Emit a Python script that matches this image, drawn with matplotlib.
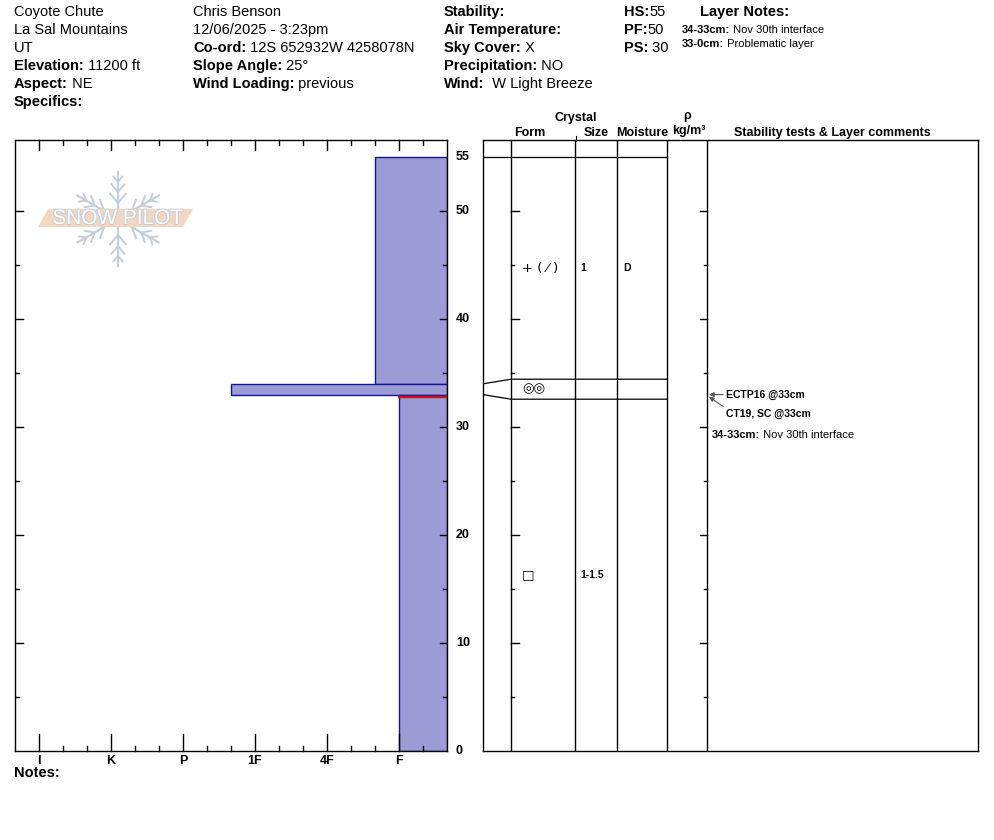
#
# Snow pit profile: Coyote Chute, La Sal Mountains
#
import numpy as np
import matplotlib
matplotlib.use('Agg')
import matplotlib.pyplot as plt
from matplotlib.patches import Polygon
import matplotlib.patheffects as pe

# Header info
site_lines = ['Coyote Chute', 'La Sal Mountains', 'UT']
site_fields = [('Elevation:', ' 11200 ft'), ('Aspect:', ' NE'), ('Specifics:', '')]
obs_lines = ['Chris Benson', '12/06/2025 - 3:23pm']
obs_fields = [('Co-ord:', ' 12S 652932W 4258078N'), ('Slope Angle:', ' 25°'),
              ('Wind Loading:', ' previous')]
wx_fields = [('Stability:', ''), ('Air Temperature:', ''), ('Sky Cover:', ' X'),
             ('Precipitation:', ' NO'), ('Wind:', '  W Light Breeze')]
depth_fields = [('HS:', '55'), ('PF:', '50'), ('PS:', ' 30')]
layer_notes = [('34-33cm:', ' Nov 30th interface'), ('33-0cm:', ' Problematic layer')]

# Hardness scale
hardness_names = ['I', 'K', 'P', '1F', '4F', 'F']
hardness_values = [6, 5, 4, 3, 2, 1]

# Layers (cm)
layer_top = [55, 34, 33]
layer_bottom = [34, 33, 0]
layer_hardness = ['F+', '1F+', 'F']
layer_form = ['+ ( \u2044 )', '\u25ce\u25ce', '\u25a1']
layer_size = ['1', '', '1-1.5']
layer_moisture = ['D', '', '']
problem_layer = 2

# Stability tests
test_names = ['ECTP16 @33cm', 'CT19, SC @33cm']
test_depths = [33, 33]
comment_label = '34-33cm:'
comment_text = ' Nov 30th interface'

HS = 55

hmap = dict(zip(hardness_names, hardness_values))


def hard_val(code):
    v = hmap[code.rstrip('+-')]
    if code.endswith('+'):
        v += 1 / 3
    elif code.endswith('-'):
        v -= 1 / 3
    return v


plt.rcParams['font.family'] = ['Liberation Sans', 'DejaVu Sans']

W, H = 994, 840
fig = plt.figure(figsize=(9.94, 8.4), dpi=100)


def box(x0, y0, x1, y1):
    return [x0 / W, 1 - y1 / H, (x1 - x0) / W, (y1 - y0) / H]


ymax = (751 - 140) / ((751 - 157) / HS)
xlo, xhi = 6 + 1 / 3, 1 / 3

ax = fig.add_axes(box(15, 140, 447, 751))
ax2 = fig.add_axes(box(483, 140, 978, 751))
ov = fig.add_axes([0, 0, 1, 1])
ov.set_xlim(0, W)
ov.set_ylim(H, 0)
ov.axis('off')
ov.patch.set_alpha(0)

# ---- hardness profile ----
ax.set_xlim(xlo, xhi)
ax.set_ylim(0, ymax)
ax.set_xticks([])
ax.set_yticks([])
for s in ax.spines.values():
    s.set_linewidth(1.0)

hv = [hard_val(h) for h in layer_hardness]
ax.barh(layer_bottom, [h - xhi for h in hv],
        height=np.array(layer_top) - np.array(layer_bottom),
        left=xhi, align='edge', color='#9b9bd5', edgecolor='#1414a0', lw=1.0, zorder=2)
ax.plot([xhi, hv[problem_layer]], [layer_top[problem_layer] - 0.2] * 2,
        color='#d01010', lw=1.7, zorder=3)

xt = ax.get_xaxis_transform()
yt = ax.get_yaxis_transform()
hpx, wpx = 611.0, 432.0
minors = [k / 3 for k in range(2, 19) if k % 3]
for v in hardness_values:
    ax.plot([v, v], [0, 17 / hpx], 'k', lw=1.0, transform=xt, clip_on=False, zorder=4)
    ax.plot([v, v], [1, 1 - 10 / hpx], 'k', lw=1.0, transform=xt, clip_on=False, zorder=4)
for v in minors:
    ax.plot([v, v], [0, 5 / hpx], 'k', lw=1.0, transform=xt, clip_on=False, zorder=4)
    ax.plot([v, v], [1, 1 - 5 / hpx], 'k', lw=1.0, transform=xt, clip_on=False, zorder=4)
for name, v in zip(hardness_names, hardness_values):
    ax.text(v, -10 / hpx, name, transform=xt, ha='center', va='center',
            fontsize=9, fontweight='bold')

for d in range(5, 55, 5):
    major = d % 10 == 0
    ax.plot([0, (8 if major else 4) / wpx], [d, d], 'k', lw=1.0, transform=yt, zorder=4)
    ax.plot([1, 1 - (7 if major else 4) / wpx], [d, d], 'k', lw=1.0, transform=yt, zorder=4)
for d in list(range(0, 51, 10)) + [HS]:
    ax.text(1 + 9 / wpx, d, str(d), transform=yt, ha='left', va='center',
            fontsize=9, fontweight='bold')

# ---- layer description panel ----
ax2.set_xlim(0, 495)
ax2.set_ylim(0, ymax)
ax2.set_xticks([])
ax2.set_yticks([])
for s in ax2.spines.values():
    s.set_linewidth(1.0)

cols = [28, 92, 134, 184, 224]
for c in cols:
    ax2.axvline(c, color='k', lw=1.0)

# display boundaries (thin layers expanded)
min_th = 1.85
bounds = [layer_top[0]] + list(layer_bottom)
disp = list(bounds)
for i, (t, b) in enumerate(zip(layer_top, layer_bottom)):
    if t - b < min_th:
        mid = (t + b) / 2
        disp[i] = mid + min_th / 2
        disp[i + 1] = mid - min_th / 2
for real, shown in zip(bounds[:-1], disp[:-1]):
    ax2.plot([0, cols[0], cols[3]], [real, shown, shown], 'k', lw=0.9)

for i in range(len(layer_top)):
    ym = (disp[i] + disp[i + 1]) / 2
    ax2.text(39, ym, layer_form[i], ha='left', va='center', fontsize=9.5,
             family=['DejaVu Sans'])
    ax2.text(97, ym, layer_size[i], ha='left', va='center', fontsize=7.5,
             fontweight='bold')
    ax2.text(140, ym, layer_moisture[i], ha='left', va='center', fontsize=7.5,
             fontweight='bold')

for d in range(5, 55, 5):
    major = d % 10 == 0
    ax2.plot([cols[0], cols[0] + (8 if major else 3)], [d, d], 'k', lw=1.0)
    ax2.plot([cols[4], cols[4] - (7 if major else 3)], [d, d], 'k', lw=1.0)

for k, (name, d) in enumerate(zip(test_names, test_depths)):
    ty = d - k * 1.75
    ax2.annotate(name, xy=(cols[4] + 2, d - k * 0.2), xytext=(243, ty),
                 ha='left', va='center', fontsize=7.5, fontweight='bold',
                 arrowprops=dict(arrowstyle='-|>', color='#555555', lw=0.8,
                                 mutation_scale=7, shrinkA=0, shrinkB=0,
                                 relpos=(0, 0.5 + 0.5 * k)))

# ---- header text ----
renderer = fig.canvas.get_renderer()


def rich(x, y, bold, normal, size=10.5):
    t = ov.text(x, y, bold, fontsize=size, fontweight='bold', ha='left', va='center')
    if normal:
        bb = t.get_window_extent(renderer=renderer)
        ov.text(bb.x1, y, normal, fontsize=size, ha='left', va='center')


rows = [12, 30, 48, 66, 84, 102]
for y, s in zip(rows, site_lines):
    ov.text(14, y, s, fontsize=10.5, ha='left', va='center')
for y, (b, n) in zip(rows[3:], site_fields):
    rich(14, y, b, n)
for y, s in zip(rows, obs_lines):
    ov.text(193, y, s, fontsize=10.5, ha='left', va='center')
for y, (b, n) in zip(rows[2:], obs_fields):
    rich(193, y, b, n)
for y, (b, n) in zip(rows, wx_fields):
    rich(444, y, b, n)
for y, (b, n) in zip(rows, depth_fields):
    rich(624, y, b, n)
ov.text(700, 12, 'Layer Notes:', fontsize=10.5, fontweight='bold', ha='left', va='center')
for y, (b, n) in zip([30, 44], layer_notes):
    rich(682, y, b, n, size=8)

# comment under the tests
cy = (751 - 435) / 10.8
t = ax2.text(229, cy, comment_label, fontsize=8, fontweight='bold', ha='left', va='center')
bb = t.get_window_extent(renderer=renderer)
ov.text(bb.x1, 435, comment_text, fontsize=8, ha='left', va='center')

# column headers
hdr = [('Crystal', 576, 118), ('Form', 530, 133), ('Size', 596, 133),
       ('Moisture', 642, 133), ('\u03c1', 687, 116), ('kg/m\u00b3', 689, 131),
       ('Stability tests & Layer comments', 832, 133)]
for s, x, y in hdr:
    ov.text(x, y, s, fontsize=9, fontweight='bold', ha='center', va='center')
ov.plot([576, 576], [136, 141], 'k', lw=0.8)

ov.text(14, 773, 'Notes:', fontsize=10.5, fontweight='bold', ha='left', va='center')

# ---- SnowPilot watermark ----
cx, cy0, r = 118, 219, 47
flake = '#c5cfd8'
for a in np.radians([90, 30, 150, 210, 270, 330]):
    ux, uy = np.cos(a), -np.sin(a)
    ov.plot([cx, cx + r * ux], [cy0, cy0 + r * uy], color=flake, lw=1.6)
    for dist, ln in [(16, 12), (27, 10), (37, 7)]:
        px, py = cx + dist * ux, cy0 + dist * uy
        for sgn in (1, -1):
            b = a + sgn * np.radians(40)
            ov.plot([px, px + ln * np.cos(b)], [py, py - ln * np.sin(b)],
                    color=flake, lw=1.4)
ov.add_patch(Polygon([(38, 227), (48, 209), (193, 209), (183, 227)],
                     closed=True, color='#f2d8c2', lw=0, zorder=3))
ov.text(118, 218.5, 'SNOW PILOT', fontsize=15, color='white', ha='center', va='center',
        zorder=4, path_effects=[pe.withStroke(linewidth=1.5, foreground='#c8d0d8')])

plt.savefig('out.png', dpi=100)
plt.close()
